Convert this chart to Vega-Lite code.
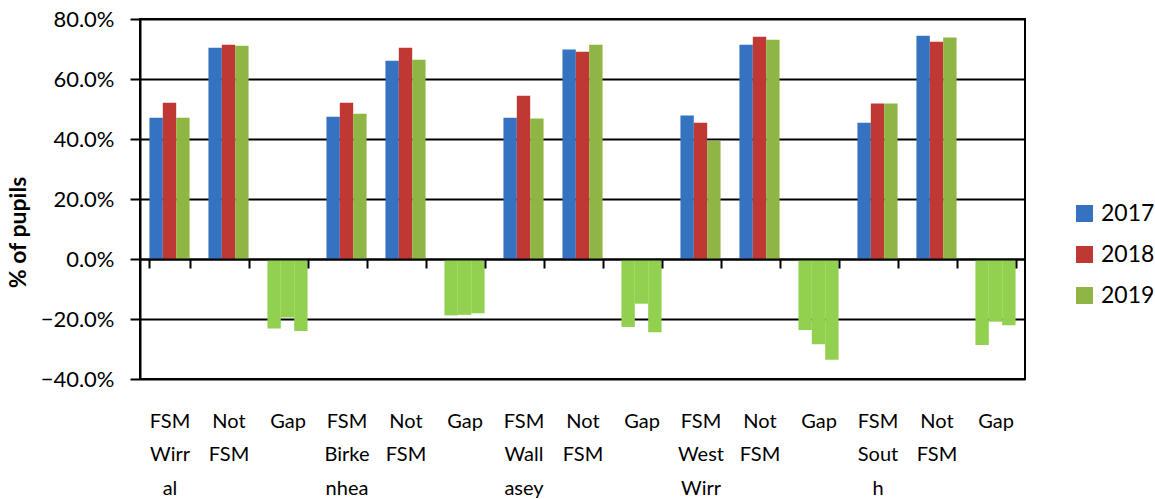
{
  "$schema": "https://vega.github.io/schema/vega-lite/v6.json",
  "width": 885,
  "height": 360,
  "autosize": {"type": "none"},
  "padding": {"left": 140, "top": 19, "right": 130, "bottom": 120},
  "background": "white",
  "config": {
    "font": "Lato",
    "view": {"stroke": "#000000", "strokeWidth": 2}
  },
  "data": {
    "values": [
      {"key": "01|FSM|Wirr|al", "measure": "FSM", "year": "2017", "value": 0.471},
      {"key": "01|FSM|Wirr|al", "measure": "FSM", "year": "2018", "value": 0.521},
      {"key": "01|FSM|Wirr|al", "measure": "FSM", "year": "2019", "value": 0.471},
      {"key": "02|Not|FSM", "measure": "Not FSM", "year": "2017", "value": 0.704},
      {"key": "02|Not|FSM", "measure": "Not FSM", "year": "2018", "value": 0.714},
      {"key": "02|Not|FSM", "measure": "Not FSM", "year": "2019", "value": 0.711},
      {"key": "03|Gap", "measure": "Gap", "year": "2017", "value": -0.232},
      {"key": "03|Gap", "measure": "Gap", "year": "2018", "value": -0.195},
      {"key": "03|Gap", "measure": "Gap", "year": "2019", "value": -0.240},
      {"key": "04|FSM|Birke|nhea", "measure": "FSM", "year": "2017", "value": 0.474},
      {"key": "04|FSM|Birke|nhea", "measure": "FSM", "year": "2018", "value": 0.521},
      {"key": "04|FSM|Birke|nhea", "measure": "FSM", "year": "2019", "value": 0.484},
      {"key": "05|Not|FSM", "measure": "Not FSM", "year": "2017", "value": 0.661},
      {"key": "05|Not|FSM", "measure": "Not FSM", "year": "2018", "value": 0.704},
      {"key": "05|Not|FSM", "measure": "Not FSM", "year": "2019", "value": 0.664},
      {"key": "06|Gap", "measure": "Gap", "year": "2017", "value": -0.188},
      {"key": "06|Gap", "measure": "Gap", "year": "2018", "value": -0.186},
      {"key": "06|Gap", "measure": "Gap", "year": "2019", "value": -0.181},
      {"key": "07|FSM|Wall|asey", "measure": "FSM", "year": "2017", "value": 0.471},
      {"key": "07|FSM|Wall|asey", "measure": "FSM", "year": "2018", "value": 0.544},
      {"key": "07|FSM|Wall|asey", "measure": "FSM", "year": "2019", "value": 0.468},
      {"key": "08|Not|FSM", "measure": "Not FSM", "year": "2017", "value": 0.698},
      {"key": "08|Not|FSM", "measure": "Not FSM", "year": "2018", "value": 0.691},
      {"key": "08|Not|FSM", "measure": "Not FSM", "year": "2019", "value": 0.714},
      {"key": "09|Gap", "measure": "Gap", "year": "2017", "value": -0.227},
      {"key": "09|Gap", "measure": "Gap", "year": "2018", "value": -0.149},
      {"key": "09|Gap", "measure": "Gap", "year": "2019", "value": -0.244},
      {"key": "10|FSM|West|Wirr", "measure": "FSM", "year": "2017", "value": 0.478},
      {"key": "10|FSM|West|Wirr", "measure": "FSM", "year": "2018", "value": 0.454},
      {"key": "10|FSM|West|Wirr", "measure": "FSM", "year": "2019", "value": 0.394},
      {"key": "11|Not|FSM", "measure": "Not FSM", "year": "2017", "value": 0.714},
      {"key": "11|Not|FSM", "measure": "Not FSM", "year": "2018", "value": 0.741},
      {"key": "11|Not|FSM", "measure": "Not FSM", "year": "2019", "value": 0.731},
      {"key": "12|Gap", "measure": "Gap", "year": "2017", "value": -0.237},
      {"key": "12|Gap", "measure": "Gap", "year": "2018", "value": -0.284},
      {"key": "12|Gap", "measure": "Gap", "year": "2019", "value": -0.336},
      {"key": "13|FSM|Sout|h", "measure": "FSM", "year": "2017", "value": 0.454},
      {"key": "13|FSM|Sout|h", "measure": "FSM", "year": "2018", "value": 0.518},
      {"key": "13|FSM|Sout|h", "measure": "FSM", "year": "2019", "value": 0.518},
      {"key": "14|Not|FSM", "measure": "Not FSM", "year": "2017", "value": 0.744},
      {"key": "14|Not|FSM", "measure": "Not FSM", "year": "2018", "value": 0.724},
      {"key": "14|Not|FSM", "measure": "Not FSM", "year": "2019", "value": 0.738},
      {"key": "15|Gap", "measure": "Gap", "year": "2017", "value": -0.287},
      {"key": "15|Gap", "measure": "Gap", "year": "2018", "value": -0.209},
      {"key": "15|Gap", "measure": "Gap", "year": "2019", "value": -0.221}
    ]
  },
  "mark": {"type": "bar"},
  "encoding": {
    "x": {
      "field": "key",
      "type": "nominal",
      "sort": null,
      "scale": {"paddingInner": 0.32, "paddingOuter": 0.16},
      "axis": {
        "title": null,
        "offset": -120,
        "zindex": 1,
        "domainColor": "#000000",
        "domainWidth": 2,
        "tickBand": "extent",
        "tickColor": "#000000",
        "tickWidth": 2,
        "tickSize": 9,
        "labelExpr": "slice(split(datum.value, '|'), 1)",
        "labelAngle": 0,
        "labelFont": "Lato",
        "labelFontSize": 20,
        "labelColor": "#000000",
        "labelLineHeight": 33.5,
        "labelPadding": 143,
        "labelBaseline": "top",
        "labelBound": false,
        "labelOverlap": false
      }
    },
    "xOffset": {
      "field": "year",
      "type": "nominal",
      "scale": {"paddingInner": 0, "paddingOuter": 0}
    },
    "y": {
      "field": "value",
      "type": "quantitative",
      "scale": {"domain": [-0.4, 0.8], "nice": false, "zero": false},
      "axis": {
        "title": "% of pupils",
        "titleFont": "Lato",
        "titleFontSize": 23,
        "titleFontWeight": "bold",
        "titleColor": "#000000",
        "titleAngle": -90,
        "titleX": -122,
        "titleY": 213,
        "titleAlign": "center",
        "titleBaseline": "middle",
        "format": ".1%",
        "values": [-0.4, -0.2, 0, 0.2, 0.4, 0.6, 0.8],
        "labelFont": "Lato",
        "labelFontSize": 22,
        "labelColor": "#000000",
        "labelPadding": 16,
        "domainColor": "#000000",
        "domainWidth": 2,
        "tickColor": "#000000",
        "tickWidth": 2,
        "tickSize": 10,
        "grid": true,
        "gridColor": "#000000",
        "gridWidth": 2
      }
    },
    "color": {
      "condition": {"test": "datum.measure === 'Gap'", "value": "#92d050"},
      "field": "year",
      "type": "nominal",
      "scale": {"domain": ["2017", "2018", "2019"], "range": ["#3572c0", "#bf3834", "#8fb644"]},
      "legend": {
        "title": null,
        "orient": "none",
        "legendX": 933,
        "legendY": 183,
        "symbolType": "square",
        "symbolSize": 289,
        "symbolStrokeWidth": 0,
        "labelFont": "Lato",
        "labelFontSize": 23,
        "labelColor": "#000000",
        "labelOffset": 5,
        "rowPadding": 17
      }
    }
  }
}
